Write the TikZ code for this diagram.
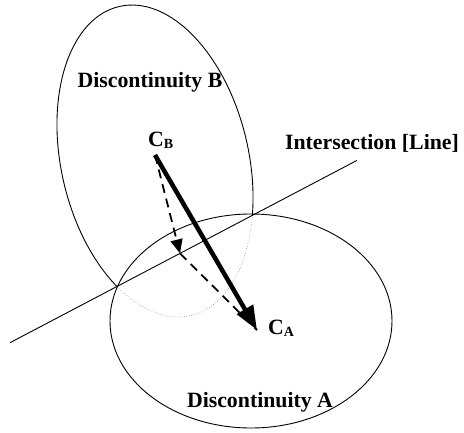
\documentclass[tikz,border=0pt]{standalone}
\usepackage{fontspec}
\setmainfont{Liberation Serif}
\usetikzlibrary{arrows.meta, positioning, calc}
\tikzset{
  lbl/.style={font=\fontsize{21.8}{24}\selectfont\bfseries, inner sep=0pt},
  rim/.style={line width=0.9pt},
  hidden/.style={line width=0.45pt, dotted, black!70},
  arr/.style={-{Triangle[length=24pt, width=18pt]}, line width=4.5pt},
  darr/.style={dash pattern=on 9pt off 6pt, line width=1.8pt},
}
\newcommand{\subB}{\raisebox{-2pt}{\fontsize{14}{16}\selectfont B}}
\newcommand{\subA}{\raisebox{-2pt}{\fontsize{14}{16}\selectfont A}}

\begin{document}
\begin{tikzpicture}[x=1pt, y=1pt]
  \useasboundingbox (0,0) rectangle (464,432);

  % --- key points ---
  \coordinate (top) at (0,432);
  \coordinate (bot) at (0,0);
  \coordinate (lnW) at (10,89.3);
  \coordinate (lnE) at (357,271.6);
  \coordinate (cB) at (155,277);
  \coordinate (cA) at (257,102);
  \coordinate (foot) at (180,178.6);

  % --- Discontinuity A ---
  \draw[rim] (251,111) ellipse [x radius=141, y radius=107];

  % --- Discontinuity B: solid above the line, dotted inside A ---
  \begin{scope}
    \clip (lnW) -- (lnE) -- (lnE |- top) -- (lnW |- top) -- cycle;
    \draw[rim, rotate around={13:(155,271)}] (155,271) ellipse [x radius=93.7, y radius=158.6];
  \end{scope}
  \begin{scope}
    \clip (lnW) -- (lnE) -- (lnE |- bot) -- (lnW |- bot) -- cycle;
    \draw[hidden, rotate around={13:(155,271)}] (155,271) ellipse [x radius=93.7, y radius=158.6];
  \end{scope}

  % --- Intersection line ---
  \draw[rim] (lnW) -- (lnE);

  % --- projections and offset vector ---
  \draw[darr, -{Triangle[length=14pt, width=12pt]}] (cB) -- (foot);
  \draw[darr] (foot) -- (cA);
  \draw[arr] (cB) -- (cA);

  % --- labels ---
  \node[lbl] (discB) at (150,350) {Discontinuity B};
  \node[lbl] (intsec) at (372,289) {Intersection [Line]};
  \node[lbl] (discA) at (260,30) {Discontinuity A};
  \node[lbl, anchor=west] (labB) at (148,292) {C\subB};
  \node[lbl, anchor=west] (labA) at (268,104) {C\subA};
\end{tikzpicture}
\end{document}
